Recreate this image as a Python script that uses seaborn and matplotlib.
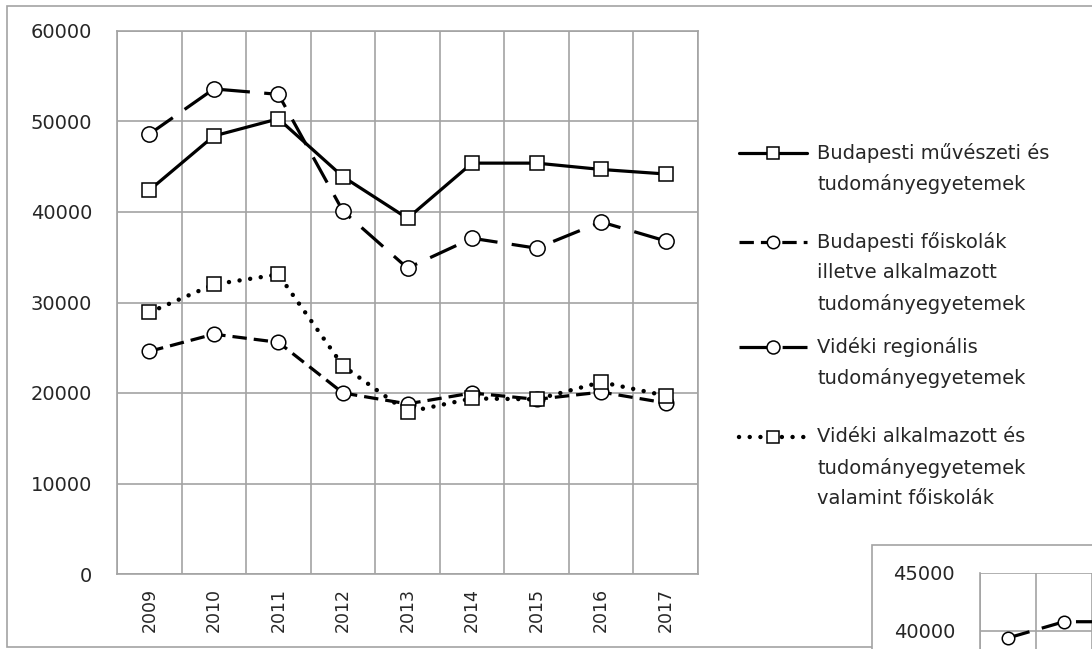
import numpy as np
import pandas as pd
import seaborn as sns
import matplotlib.pyplot as plt
from matplotlib.lines import Line2D
from matplotlib.patches import Rectangle

years = ['2009', '2010', '2011', '2012', '2013', '2014', '2015', '2016', '2017']
bp_muveszeti = [42400, 48400, 50300, 43900, 39300, 45400, 45400, 44700, 44200]
bp_foiskola = [24600, 26500, 25600, 20000, 18800, 20000, 19300, 20100, 18900]
videki_regionalis = [48600, 53600, 53000, 40100, 33800, 37100, 36000, 38900, 36800]
videki_alkalmazott = [28900, 32000, 33100, 23000, 17900, 19400, 19300, 21200, 19700]

# second chart peeking in at the bottom right corner
inset_years = ['2009', '2010', '2011']
inset_vals = [39400, 40800, 40800]

labels = [
    ['Budapesti művészeti és', 'tudományegyetemek'],
    ['Budapesti főiskolák', 'illetve alkalmazott', 'tudományegyetemek'],
    ['Vidéki regionális', 'tudományegyetemek'],
    ['Vidéki alkalmazott és', 'tudományegyetemek', 'valamint főiskolák'],
]

sns.set_style('white')
plt.rcParams['font.family'] = ['DejaVu Sans']
txt_col = '#262626'
grid_col = '#a3a3a3'

W, H = 1092, 649
fig = plt.figure(figsize=(W / 100, H / 100), dpi=100)

def fx(px):
    return px / W

def fy(py):
    return (H - py) / H

# outer chart borders
fig.add_artist(Rectangle((fx(7), fy(647)), 1.2, fy(6) - fy(647), transform=fig.transFigure,
                         facecolor='white', edgecolor=grid_col, lw=1.2, zorder=0))

ax = fig.add_axes([fx(117), fy(574), fx(698) - fx(117), fy(31) - fy(574)])

series = [
    (bp_muveszeti, dict(marker='s', markersize=10, linestyle='-', linewidth=2.3)),
    (bp_foiskola, dict(marker='o', markersize=10.5, dashes=(4.5, 2.2), linewidth=2.3)),
    (videki_regionalis, dict(marker='o', markersize=11, dashes=(9, 4.5), linewidth=2.3)),
    (videki_alkalmazott, dict(marker='s', markersize=10, dashes=(0.01, 2.4), linewidth=3.2,
                              dash_capstyle='round')),
]
pos = np.arange(len(years))
for vals, kw in series:
    df = pd.DataFrame({'x': pos, 'y': vals})
    sns.lineplot(data=df, x='x', y='y', ax=ax, color='black',
                 markerfacecolor='white', markeredgecolor='black', markeredgewidth=1.1,
                 legend=False, **kw)

ax.set_xlim(-0.5, len(years) - 0.5)
ax.set_ylim(0, 60000)
ax.set_yticks(range(0, 60001, 10000))
ax.set_xticks(pos)
ax.set_xticklabels(years, rotation=90)
ax.set_xticks(np.arange(-0.5, len(years)), minor=True)
ax.grid(False)
ax.grid(True, which='minor', axis='x', color=grid_col, lw=1.2)
ax.grid(True, which='major', axis='y', color=grid_col, lw=1.2)
ax.set_axisbelow(True)
ax.tick_params(axis='x', which='major', length=0, pad=10, labelsize=12.5, colors=txt_col)
ax.tick_params(axis='x', which='minor', length=6, width=1.2, color=grid_col)
ax.tick_params(axis='y', length=6, width=1.2, color=grid_col, pad=12, labelsize=14, labelcolor=txt_col)
for s in ax.spines.values():
    s.set_color(grid_col)
    s.set_linewidth(1.2)
ax.set_xlabel('')
ax.set_ylabel('')

# legend, drawn like the Excel one (key aligned to first text line)
legend_y = [153, 242, 347, 437]
for (vals, kw), lines, y0 in zip(series, labels, legend_y):
    lkw = {k: v for k, v in kw.items() if k not in ('marker', 'markersize')}
    key = Line2D([fx(739), fx(773), fx(807)], [fy(y0)] * 3, transform=fig.transFigure,
                 color='black', marker=kw['marker'], markersize=kw['markersize'] * 0.85,
                 markevery=[1], markerfacecolor='white', markeredgecolor='black',
                 markeredgewidth=1.1, **lkw)
    fig.add_artist(key)
    for i, line in enumerate(lines):
        fig.text(fx(817), fy(y0 + 31 * i), line, fontsize=14, color=txt_col, va='center', ha='left')

# the cut off second chart
fig.add_artist(Rectangle((fx(872), fy(700)), 0.3, fy(545) - fy(700), transform=fig.transFigure,
                         facecolor='white', edgecolor=grid_col, lw=1.2, zorder=3))
ax2 = fig.add_axes([fx(980), fy(573 + 116), 9 * 56 / W, 116 / H], zorder=4)
df2 = pd.DataFrame({'x': np.arange(len(inset_years)), 'y': inset_vals})
sns.lineplot(data=df2, x='x', y='y', ax=ax2, color='black', linewidth=2.3, marker='o',
             markersize=9, dashes=(7, 4), markerfacecolor='white', markeredgecolor='black',
             markeredgewidth=1.1, legend=False)
ax2.set_xlim(-0.5, 8.5)
ax2.set_ylim(35000, 45000)
ax2.set_yticks([40000, 45000])
ax2.set_xticks(np.arange(-0.5, 9), minor=True)
ax2.set_xticks([])
ax2.grid(True, which='minor', axis='x', color=grid_col, lw=1.2)
ax2.grid(True, which='major', axis='y', color=grid_col, lw=1.2)
ax2.set_axisbelow(True)
ax2.tick_params(axis='y', length=6, width=1.2, color=grid_col, pad=12, labelsize=14, labelcolor=txt_col)
for s in ax2.spines.values():
    s.set_color(grid_col)
    s.set_linewidth(1.2)
ax2.spines['top'].set_visible(False)
ax2.set_xlabel('')
ax2.set_ylabel('')

fig.savefig('out.png', dpi=100)
